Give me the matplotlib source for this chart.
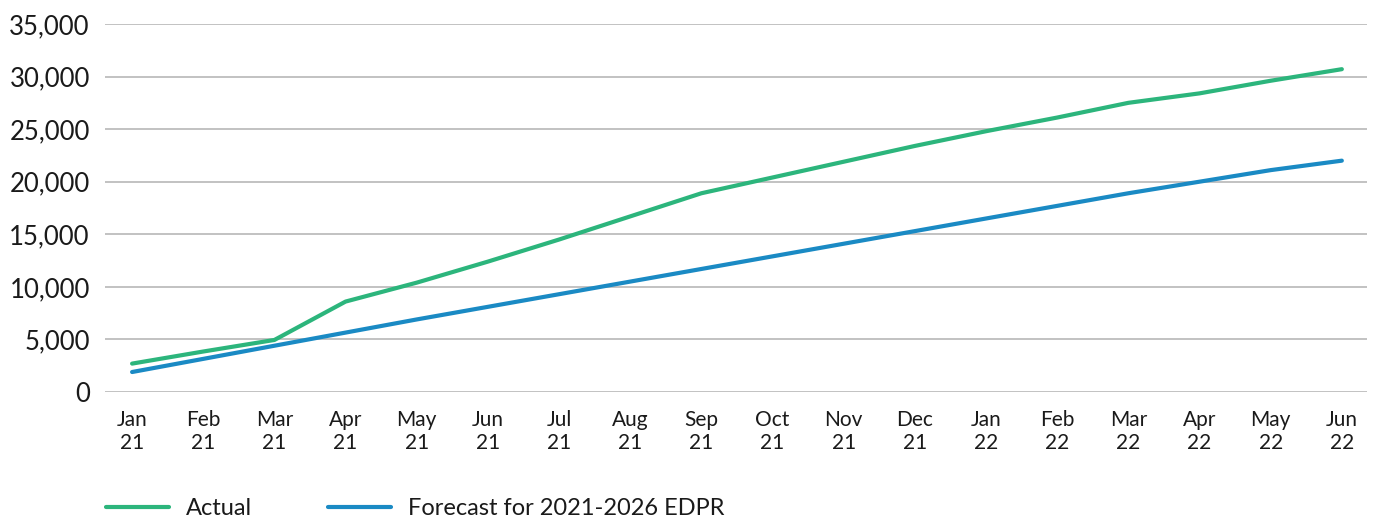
import numpy as np
import matplotlib.pyplot as plt
from matplotlib.ticker import FuncFormatter

plt.rcParams['font.family'] = ['Lato', 'DejaVu Sans']

# Données
months = ["Jan\n21", "Feb\n21", "Mar\n21", "Apr\n21", "May\n21", "Jun\n21",
          "Jul\n21", "Aug\n21", "Sep\n21", "Oct\n21", "Nov\n21", "Dec\n21",
          "Jan\n22", "Feb\n22", "Mar\n22", "Apr\n22", "May\n22", "Jun\n22"]
actual = [2700, 3850, 4950, 8600, 10400, 12400, 14500, 16700, 18900, 20400,
          21900, 23400, 24800, 26100, 27500, 28400, 29600, 30700]
forecast = [1900, 3150, 4400, 5650, 6900, 8100, 9300, 10500, 11700, 12900,
            14100, 15300, 16500, 17700, 18900, 20000, 21100, 22000]

green = "#2CB57C"
blue = "#1A8AC4"


def main():
    fig = plt.figure(figsize=(13.75, 5.21), dpi=100)
    ax = fig.add_axes([0.0764, 0.2476, 0.9176, 0.7064])

    x = np.arange(len(months))
    ax.plot(x, actual, color=green, lw=3, solid_capstyle="round", label="Actual")
    ax.plot(x, forecast, color=blue, lw=3, solid_capstyle="round",
            label="Forecast for 2021-2026 EDPR")

    ax.set_xlim(-0.38, 17.35)
    ax.set_ylim(0, 35000)
    ax.set_yticks(np.arange(0, 35001, 5000))
    ax.yaxis.set_major_formatter(FuncFormatter(lambda v, p: f"{int(v):,}"))
    ax.set_xticks(x)
    ax.set_xticklabels(months, linespacing=1.2)

    ax.grid(axis="y", color="#BDBDBD", lw=1.3)
    ax.set_axisbelow(True)
    for s in ax.spines.values():
        s.set_visible(False)
    ax.tick_params(axis="both", length=0, colors="#1a1a1a")
    ax.tick_params(axis="y", labelsize=18.5, pad=11)
    ax.tick_params(axis="x", labelsize=15, pad=13)

    handles, labels = ax.get_legend_handles_labels()
    leg = fig.legend(handles, labels, loc="center left",
                     bbox_to_anchor=(0.077, 0.024), ncol=2,
                     frameon=False, fontsize=17, handlelength=2.67,
                     columnspacing=3.2, handletextpad=0.72, borderpad=0,
                     borderaxespad=0)
    for t in leg.get_texts():
        t.set_color("#1a1a1a")

    fig.savefig("out.png", dpi=100)


if __name__ == "__main__":
    main()
